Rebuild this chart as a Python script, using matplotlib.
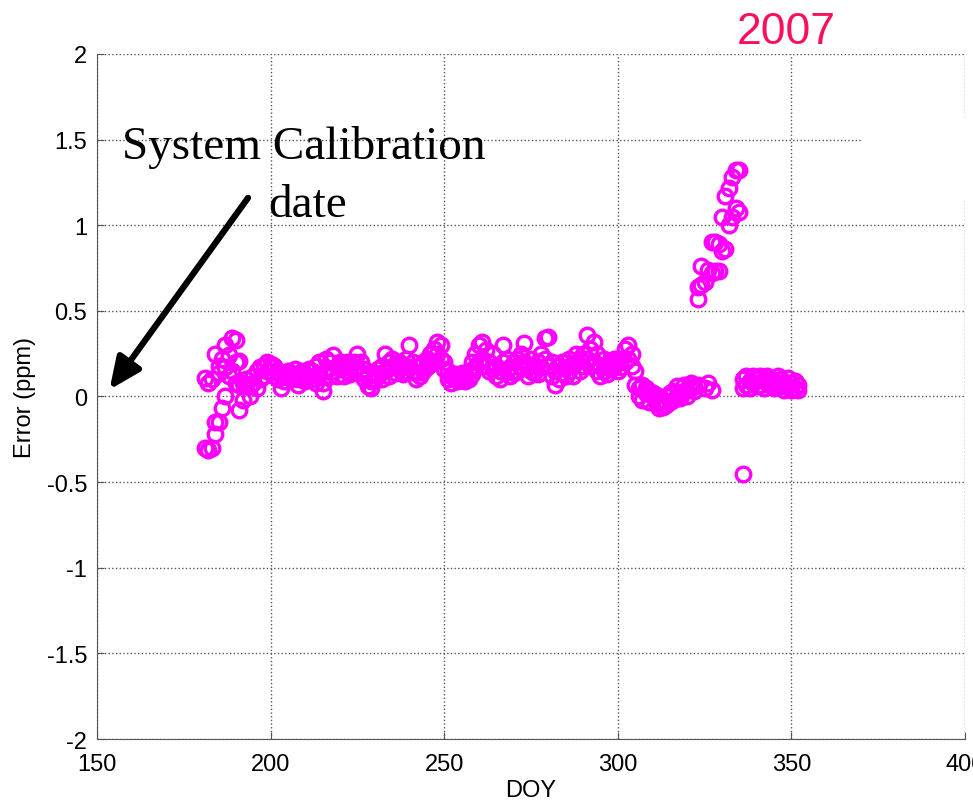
import numpy as np
import matplotlib
matplotlib.use("Agg")
import matplotlib.pyplot as plt
from matplotlib.patches import Rectangle

# day of year / error readings (ppm)
doy = [
    181, 181, 182, 182, 183, 183, 184, 184, 184, 185, 185, 185, 186, 186, 187, 187, 187, 188, 188, 189, 189, 190, 190, 190,
    191, 191, 191, 192, 192, 193, 193, 194, 194, 195, 195, 196, 196, 197, 197, 198, 198, 199, 199, 200, 200,
    201, 201, 202, 202, 203, 203, 204, 204, 205, 205, 206, 206, 207, 207, 208, 208, 209, 209, 210, 210,
    211, 211, 212, 212, 213, 213, 214, 214, 215, 215, 216, 216, 217, 217, 218, 218, 219, 219, 220, 220,
    221, 221, 222, 222, 223, 223, 224, 224, 225, 225, 226, 226, 227, 227, 228, 228, 229, 229, 230, 230,
    231, 231, 232, 232, 233, 233, 234, 234, 235, 235, 236, 236, 237, 237, 238, 238, 239, 239, 240, 240,
    241, 241, 242, 242, 243, 243, 244, 244, 245, 245, 246, 246, 247, 247, 248, 248, 249, 249, 250, 250,
    251, 251, 252, 252, 253, 253, 254, 254, 255, 255, 256, 256, 257, 257, 258, 258, 259, 259, 260, 260,
    261, 261, 262, 262, 263, 263, 264, 264, 265, 265, 266, 266, 267, 267, 268, 268, 269, 269, 270, 270,
    271, 271, 272, 272, 273, 273, 274, 274, 275, 275, 276, 276, 277, 277, 278, 278, 279, 279, 280, 280,
    281, 281, 282, 282, 283, 283, 284, 284, 285, 285, 286, 286, 287, 287, 288, 288, 289, 289, 290, 290,
    291, 291, 292, 292, 293, 293, 294, 294, 295, 295, 296, 296, 297, 297, 298, 298, 299, 299, 300, 300,
    301, 301, 302, 302, 303, 303, 304, 304, 305, 305, 306, 306, 307, 307, 308, 308, 309, 309, 310, 310,
    311, 311, 312, 312, 313, 313, 314, 314, 315, 315, 316, 316, 317, 317, 318, 318, 319, 319, 320, 320,
    321, 321, 322, 322, 323, 323, 323, 324, 324, 325, 325, 326, 326, 327, 327, 327, 328, 328, 329, 329, 330, 330,
    331, 331, 332, 332, 333, 333, 334, 334, 335, 335, 336, 336, 336, 337, 337, 338, 338, 339, 339, 340, 340,
    341, 341, 342, 342, 343, 343, 344, 344, 345, 345, 346, 346, 347, 347, 348, 348, 349, 349, 350, 350, 351, 351, 352, 352,
]
err = [
    -0.30, 0.11, -0.31, 0.08, -0.30, 0.10, -0.22, 0.25, -0.15, -0.15, 0.14, 0.18, -0.07, 0.22, 0.00, 0.30, 0.17, 0.24, 0.12, 0.34, 0.15, 0.33, 0.20, 0.08,
    -0.08, 0.07, 0.21, -0.02, 0.08, 0.07, 0.10, 0.00, 0.06, 0.08, 0.12, 0.05, 0.15, 0.10, 0.17, 0.18, 0.12, 0.20, 0.15, 0.19, 0.17,
    0.18, 0.12, 0.10, 0.14, 0.05, 0.12, 0.13, 0.09, 0.15, 0.12, 0.14, 0.10, 0.12, 0.16, 0.10, 0.07, 0.13, 0.15, 0.11, 0.09,
    0.12, 0.16, 0.15, 0.10, 0.18, 0.08, 0.20, 0.13, 0.03, 0.08, 0.22, 0.15, 0.20, 0.12, 0.24, 0.15, 0.18, 0.12, 0.20, 0.16,
    0.18, 0.12, 0.15, 0.20, 0.17, 0.13, 0.20, 0.15, 0.25, 0.17, 0.20, 0.14, 0.16, 0.10, 0.06, 0.12, 0.09, 0.05, 0.10, 0.14,
    0.12, 0.16, 0.18, 0.10, 0.25, 0.15, 0.20, 0.12, 0.17, 0.22, 0.19, 0.14, 0.20, 0.16, 0.18, 0.13, 0.22, 0.15, 0.30, 0.17,
    0.15, 0.20, 0.10, 0.14, 0.12, 0.18, 0.20, 0.15, 0.22, 0.17, 0.25, 0.19, 0.28, 0.21, 0.32, 0.25, 0.30, 0.22, 0.20, 0.16,
    0.15, 0.10, 0.12, 0.08, 0.10, 0.13, 0.09, 0.11, 0.10, 0.14, 0.12, 0.09, 0.15, 0.10, 0.20, 0.13, 0.25, 0.17, 0.30, 0.20,
    0.32, 0.22, 0.27, 0.18, 0.20, 0.15, 0.25, 0.16, 0.18, 0.12, 0.10, 0.15, 0.30, 0.20, 0.22, 0.15, 0.17, 0.12, 0.20, 0.14,
    0.15, 0.22, 0.25, 0.18, 0.31, 0.20, 0.17, 0.12, 0.22, 0.15, 0.18, 0.14, 0.20, 0.13, 0.25, 0.17, 0.34, 0.22, 0.35, 0.18,
    0.20, 0.12, 0.07, 0.15, 0.10, 0.18, 0.14, 0.20, 0.12, 0.17, 0.22, 0.15, 0.18, 0.12, 0.20, 0.25, 0.15, 0.22, 0.25, 0.18,
    0.36, 0.22, 0.28, 0.18, 0.32, 0.20, 0.25, 0.15, 0.18, 0.12, 0.22, 0.15, 0.18, 0.13, 0.20, 0.16, 0.22, 0.17, 0.20, 0.15,
    0.22, 0.17, 0.28, 0.20, 0.30, 0.22, 0.18, 0.25, 0.07, 0.15, 0.00, 0.05, 0.07, -0.02, 0.02, 0.05, 0.03, -0.03, 0.00, 0.02,
    -0.04, 0.01, -0.07, -0.03, -0.06, -0.02, -0.05, 0.00, -0.03, 0.02, -0.02, 0.03, 0.00, 0.06, 0.02, -0.01, 0.07, 0.03, 0.04, 0.00,
    0.05, 0.08, 0.06, 0.03, 0.07, 0.57, 0.64, 0.65, 0.76, 0.05, 0.67, 0.08, 0.74, 0.04, 0.90, 0.72, 0.90, 0.73, 0.89, 0.73, 1.05, 0.85,
    0.86, 1.17, 1.00, 1.22, 1.05, 1.28, 1.10, 1.32, 1.32, 1.08, -0.45, 0.10, 0.05, 0.12, 0.07, 0.09, 0.05, 0.12, 0.08, 0.10, 0.06,
    0.12, 0.07, 0.10, 0.05, 0.08, 0.12, 0.06, 0.10, 0.09, 0.05, 0.12, 0.07, 0.10, 0.06, 0.08, 0.04, 0.11, 0.06, 0.08, 0.04, 0.05, 0.09, 0.07, 0.04,
]

xticks = [150, 200, 250, 300, 350, 400]
yticks = [-2, -1.5, -1, -0.5, 0, 0.5, 1, 1.5, 2]
ytick_labels = ['-2', '-1.5', '-1', '-0.5', '0', '0.5', '1', '1.5', '2']

fig = plt.figure(figsize=(9.73, 8.04), dpi=100)
ax = fig.add_axes([0.0997, 0.0796, 0.8921, 0.852])

ax.plot(doy, err, 'o', ls='none', ms=10.5, mfc='none', mec='#ff00ff', mew=2.4)

ax.set_xlim(150, 400)
ax.set_ylim(-2, 2)
ax.set_xticks(xticks)
ax.set_xticklabels([str(t) for t in xticks])
ax.set_yticks(yticks)
ax.set_yticklabels(ytick_labels)
ax.grid(True, ls=':', color='#555555', lw=1.0)
for s in ['top', 'right']:
    ax.spines[s].set_visible(False)
for s in ['left', 'bottom']:
    ax.spines[s].set_color('#555555')
ax.tick_params(direction='in', length=5, color='#555555', labelsize=17)
ax.tick_params(axis='x', pad=10)
ax.tick_params(axis='y', pad=7)
for lab in ax.get_xticklabels() + ax.get_yticklabels():
    lab.set_family('Liberation Sans')

ax.set_xlabel('DOY', fontsize=17, family='Liberation Sans', labelpad=3)
ax.set_ylabel('Error (ppm)', fontsize=17, family='Liberation Sans', labelpad=8)

# white box in the top right, as on the slide
fig.patches.append(Rectangle((862 / 973, 1 - 200 / 804), 111 / 973, 82 / 804,
                             transform=fig.transFigure, color='white', zorder=5))

fig.text(0.757, 0.945, '2007', fontsize=32, color='#f8105e',
         family='Liberation Sans', zorder=6)

ax.text(157.2, 1.46, 'System Calibration', fontsize=34, family='Liberation Serif',
        ha='left', va='center', zorder=6)
ax.text(199.2, 1.12, 'date', fontsize=34, family='Liberation Serif',
        ha='left', va='center', zorder=6)
ax.annotate('', xy=(153.6, 0.04), xytext=(193.5, 1.16),
            arrowprops=dict(arrowstyle='-|>,head_width=0.85,head_length=1.9',
                            color='black', lw=4.5, shrinkA=0, shrinkB=0),
            zorder=6)

fig.savefig('out.png', dpi=100)
